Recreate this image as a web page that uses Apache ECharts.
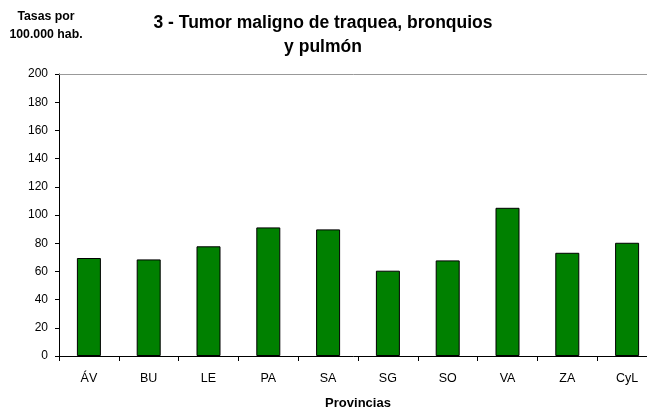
<!DOCTYPE html>
<html>
<head>
<meta charset="utf-8">
<script src="https://cdn.jsdelivr.net/npm/echarts@6/dist/echarts.min.js"></script>
<style>
  html, body { margin: 0; padding: 0; background: #fff; }
  #chart { width: 647px; height: 412px; }
</style>
</head>
<body>
<div id="chart"></div>
<script>
  // datos
  var provincias = ['ÁV', 'BU', 'LE', 'PA', 'SA', 'SG', 'SO', 'VA', 'ZA', 'CyL'];
  var tasas = [69.5, 68.5, 77.8, 91.2, 89.8, 60.5, 67.8, 105.1, 73.2, 80.3];
  var yMin = 0, yMax = 200, yStep = 20;

  var font = "'Liberation Sans', Arial, sans-serif";
  var myChart = echarts.init(document.getElementById('chart'));

  var options = {
    animation: false,
    backgroundColor: '#fff',
    title: [
      {
        text: '3 - Tumor maligno de traquea, bronquios\ny pulmón',
        left: 318, top: 6, textAlign: 'center',
        textStyle: { fontFamily: font, fontSize: 17.5, fontWeight: 'bold', color: '#000', lineHeight: 24 }
      },
      {
        text: 'Tasas por\n100.000 hab.',
        left: 41, top: 3, textAlign: 'center',
        textStyle: { fontFamily: font, fontSize: 12.3, fontWeight: 'bold', color: '#000', lineHeight: 18 }
      }
    ],
    grid: { left: 59, right: -10, top: 74, bottom: 56, containLabel: false, outerBoundsMode: 'none' },
    xAxis: [
      {
        type: 'category',
        data: provincias,
        name: 'Provincias',
        nameLocation: 'middle',
        nameGap: 41,
        nameTextStyle: { fontFamily: font, fontSize: 13, fontWeight: 'bold', color: '#000' },
        axisLine: { lineStyle: { color: '#000', width: 1 } },
        axisTick: { show: true, length: 5, lineStyle: { color: '#000' } },
        axisLabel: { fontFamily: font, fontSize: 12.5, color: '#000', margin: 16 }
      },
      {
        type: 'category',
        position: 'top',
        data: provincias,
        axisLine: { lineStyle: { color: '#999', width: 1 } },
        axisTick: { show: false },
        axisLabel: { show: false }
      }
    ],
    yAxis: {
      type: 'value',
      min: yMin, max: yMax, interval: yStep,
      axisLine: { show: true, lineStyle: { color: '#000', width: 1 } },
      axisTick: { show: true, length: 4, lineStyle: { color: '#000' } },
      splitLine: { show: false },
      axisLabel: { fontFamily: font, fontSize: 12, color: '#000', margin: 11 }
    },
    series: [
      {
        type: 'bar',
        data: tasas,
        barWidth: 24,
        itemStyle: { color: '#008000', borderColor: '#000', borderWidth: 1 }
      }
    ]
  };

  myChart.setOption(options);
</script>
</body>
</html>
